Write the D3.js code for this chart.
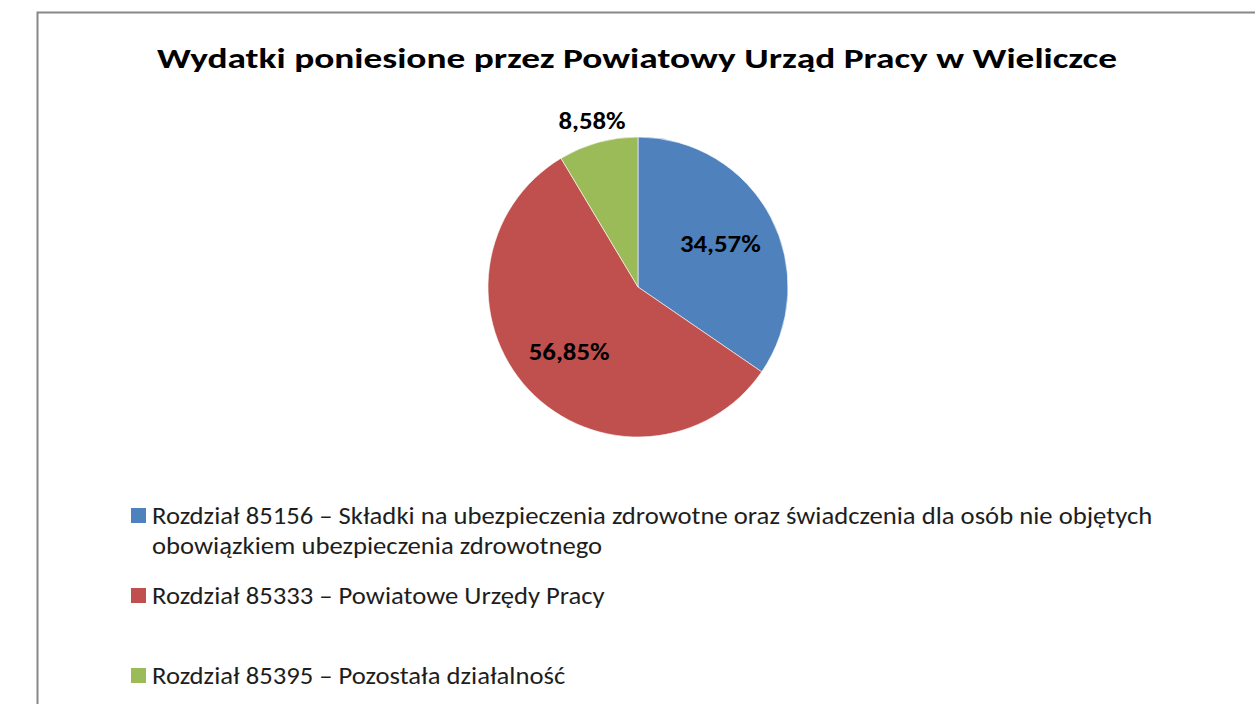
<!DOCTYPE html>
<html><head><meta charset="utf-8">
<script src="https://cdn.jsdelivr.net/npm/d3@7"></script>
<style>
html,body{margin:0;padding:0;background:#fff;}
svg{display:block;font-family:Carlito,Calibri,Lato,"Open Sans",sans-serif;}
</style></head>
<body><svg id="c" width="1255" height="704"></svg>
<script>
const title = "Wydatki poniesione przez Powiatowy Urząd Pracy w Wieliczce";
const categories = [
  "Rozdział 85156 – Składki na ubezpieczenia zdrowotne oraz świadczenia dla osób nie objętych|obowiązkiem ubezpieczenia zdrowotnego",
  "Rozdział 85333 – Powiatowe Urzędy Pracy",
  "Rozdział 85395 – Pozostała działalność"
];
const values = [34.57, 56.85, 8.58];
const labels = ["34,57%", "56,85%", "8,58%"];
const colors = ["#4F81BD", "#C0504D", "#9BBB59"];
const labelRadiusFactor = [0.62, 0.63, 1.15];

function stretch(sel, f){
  sel.each(function(){
    const L = this.getComputedTextLength();
    d3.select(this).attr("textLength", L*f).attr("lengthAdjust","spacingAndGlyphs");
  });
}

const svg = d3.select("#c");
svg.append("rect").attr("x",37.5).attr("y",12.5).attr("width",1300).attr("height",800)
  .attr("fill","#fff").attr("stroke","#888").attr("stroke-width",2);

const t = svg.append("text").attr("x",637).attr("y",68).attr("text-anchor","middle")
  .attr("font-size",29).attr("font-weight","bold").attr("fill","#000").text(title);
t.attr("textLength",960).attr("lengthAdjust","spacingAndGlyphs");

const cx = 638, cy = 287, r = 150;
const pie = d3.pie().sort(null).value(d=>d)(values);
const arc = d3.arc().innerRadius(0).outerRadius(r);
const g = svg.append("g").attr("transform",`translate(${cx},${cy})`);
g.selectAll("path").data(pie).join("path").attr("d",arc)
  .attr("fill",(d,i)=>colors[i]).attr("stroke","#fff").attr("stroke-width",0.6);
const lbl = g.selectAll("text").data(pie).join("text")
  .attr("transform",(d,i)=>{
    const lr = r*labelRadiusFactor[i];
    const c = d3.arc().innerRadius(lr).outerRadius(lr).centroid(d);
    return `translate(${c[0]},${c[1]})`;
  })
  .attr("text-anchor","middle").attr("dominant-baseline","central")
  .attr("font-size",23.5).attr("font-weight","bold").attr("fill","#000")
  .text((d,i)=>labels[i]);
stretch(lbl, 1.14);

const legendY = d3.scaleOrdinal().domain([0,1,2]).range([524,604,684]);
const lg = svg.append("g");
categories.forEach((c,i)=>{
  const y = legendY(i);
  lg.append("rect").attr("x",131).attr("y",y-16).attr("width",15).attr("height",15).attr("fill",colors[i]);
  c.split("|").forEach((line,j)=>{
    const tx = lg.append("text").attr("x",152).attr("y",y+j*30).attr("font-size",23.5).attr("fill","#1e1e1e")
      .attr("xml:space","preserve").text(line);
    stretch(tx, 1.135);
  });
});
</script></body></html>
